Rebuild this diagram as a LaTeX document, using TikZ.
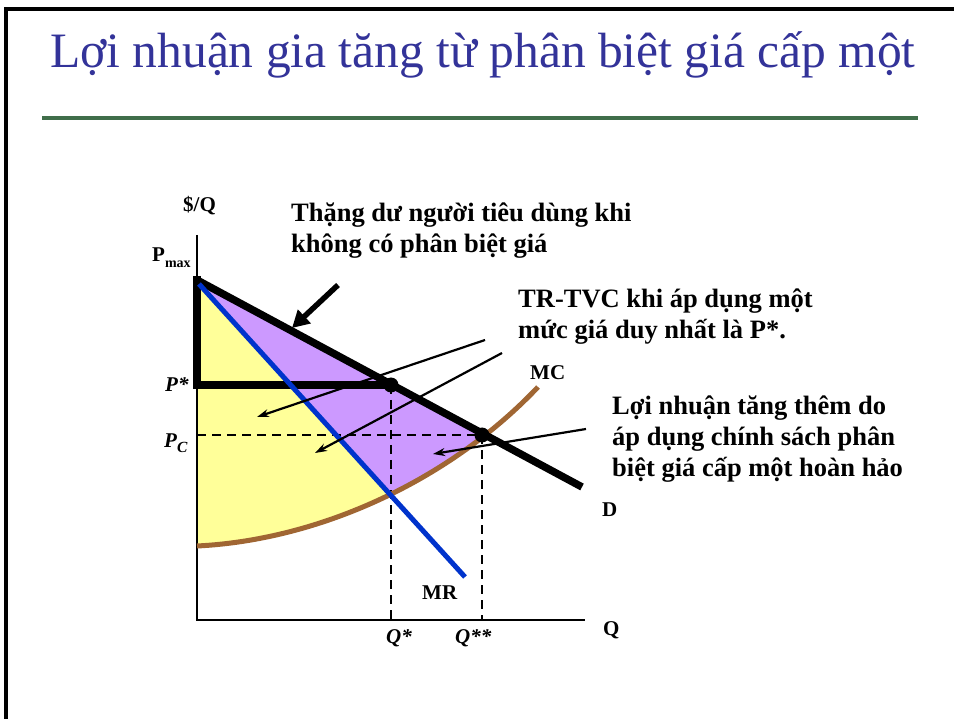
\documentclass[tikz,border=0pt]{standalone}
\usepackage{fontspec}
\setmainfont{Liberation Serif}
\usetikzlibrary{arrows.meta}
\definecolor{titleblue}{RGB}{51,51,153}
\definecolor{rulegreen}{RGB}{64,110,74}
\definecolor{csyellow}{RGB}{255,255,153}
\definecolor{tpurple}{RGB}{204,153,255}
\definecolor{mrblue}{RGB}{0,51,204}
\definecolor{mcbrown}{RGB}{160,102,51}
\begin{document}
\begin{tikzpicture}[x=1pt,y=-1pt,line join=miter,
  lbl/.style={inner sep=0pt,anchor=base west,font=\fontsize{21}{25}\selectfont\bfseries},
  note/.style={inner sep=0pt,anchor=base west,font=\fontsize{26.5}{31}\selectfont\bfseries},
  thinarrow/.style={line width=2.2pt,-{Stealth[length=12pt,width=8pt]}},
  thickarrow/.style={line width=5.5pt,-{Triangle[length=17pt,width=18pt]}},
  guide/.style={line width=2.4pt,dash pattern=on 9pt off 6pt},
  axis/.style={line width=2.6pt}]
\useasboundingbox (0,0) rectangle (954,719);
\fill[white] (0,0) rectangle (954,719);
% frame
\draw[line width=3.5pt] (6,719) -- (6,9) -- (954,9);
% title and rule
\node[anchor=base west,inner sep=0pt,text=titleblue,font=\fontsize{49.5}{58}\selectfont] (title) at (50,68) {Lợi nhuận gia tăng từ phân biệt giá cấp một};
\draw[rulegreen,line width=4.5pt] (42,118) -- (918,118);
% key points
\coordinate (O) at (197,620);
\coordinate (ytop) at (197,235);
\coordinate (xend) at (585,620);
\coordinate (Pmax) at (197,280);
\coordinate (Dend) at (582,487);
\coordinate (MRstart) at (199,284);
\coordinate (MRend) at (465,577);
\coordinate (A) at (391,385);
\coordinate (B) at (482,435);
\coordinate (MC0) at (197,546);
\coordinate (MC1) at (538,387);
% filled areas
\begin{scope}
  \clip (MC0) .. controls (320,540) and (450,480) .. (MC1) -- (600,200) -- (197,200) -- cycle;
  \fill[csyellow] (197,280) -- (470,582) -- (197,582) -- cycle;
  \fill[tpurple] (197,280) -- (Dend) -- (470,582) -- cycle;
\end{scope}
% axes
\draw[axis] (ytop) -- (O) -- (xend);
% dashed guides
\draw[guide] (197,435) -- (B);
\draw[guide] (A) -- (391,620);
\draw[guide] (B) -- (482,620);
% curves
\draw[mcbrown,line width=5pt] (MC0) .. controls (320,540) and (450,480) .. (MC1);
\draw[line width=7.5pt] (Pmax) -- (Dend);
\draw[line width=8.5pt] (197,276) -- (197,385) -- (A);
\draw[mrblue,line width=5pt] (MRstart) -- (MRend);
\fill (A) circle (7.5);
\fill (B) circle (7.5);
% labels
\node[lbl] (yl) at (183,212) {\$/Q};
\node[lbl] (pmax) at (152,262) {P\raisebox{-0.25em}{\fontsize{14}{14}\selectfont max}};
\node[lbl] (pstar) at (165,392) {\textit{P*}};
\node[lbl] (pc) at (164,447) {\textit{P}\raisebox{-0.25em}{\fontsize{15.5}{15}\selectfont\textit{C}}};
\node[lbl] (mc) at (530,380) {MC};
\node[lbl] (d) at (602,516) {D};
\node[lbl] (mr) at (422,599) {MR};
\node[lbl] (q) at (603,635) {Q};
\node[lbl] (qs) at (386,643) {\textit{Q*}};
\node[lbl] (qss) at (455,643) {\textit{Q**}};
% notes
\node[note] (cs) at (291,222) {\begin{tabular}[t]{@{}l@{}}Thặng dư người tiêu dùng khi\\không có phân biệt giá\end{tabular}};
\node[note] (trtvc) at (518,308) {\begin{tabular}[t]{@{}l@{}}TR-TVC khi áp dụng một\\mức giá duy nhất là P*.\end{tabular}};
\node[note] (gain) at (612,415) {\begin{tabular}[t]{@{}l@{}}Lợi nhuận tăng thêm do\\áp dụng chính sách phân\\biệt giá cấp một hoàn hảo\end{tabular}};
% arrows
\coordinate (a1s) at (338,285);
\coordinate (a1e) at (292,328);
\coordinate (a2s) at (485,340);
\coordinate (a2e) at (257,417);
\coordinate (a3s) at (502,353);
\coordinate (a3e) at (315,453);
\coordinate (a4s) at (586,429);
\coordinate (a4e) at (433,454);
\draw[thickarrow] (a1s) -- (a1e);
\draw[thinarrow] (a2s) -- (a2e);
\draw[thinarrow] (a3s) -- (a3e);
\draw[thinarrow] (a4s) -- (a4e);
\end{tikzpicture}
\end{document}
